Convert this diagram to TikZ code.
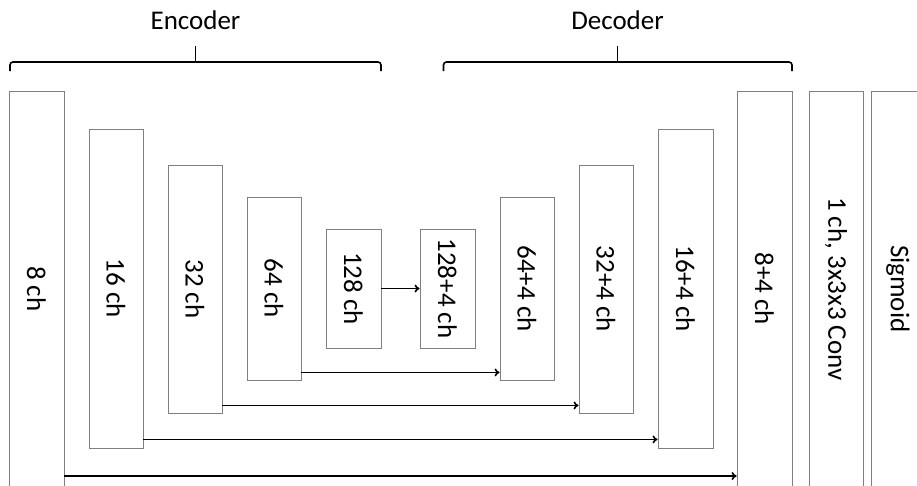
\documentclass[tikz,border=0pt]{standalone}
\usepackage{fontspec}
\setmainfont{Carlito}
\usepackage{graphicx}
\usetikzlibrary{arrows.meta}
\definecolor{boxgray}{RGB}{128,128,128}
\begin{document}
\begin{tikzpicture}[x=1pt,y=-1pt,
  blk/.style={draw=boxgray, line width=0.9pt, inner sep=0pt, fill=white,
    font=\fontsize{27}{32}\selectfont},
  lbl/.style={font=\fontsize{27}{32}\selectfont, inner sep=0pt},
  arr/.style={-{To[length=5pt,width=8pt]}, line width=1.6pt},
  brc/.style={line width=1.6pt, rounded corners=3pt}]
\clip (0,0) rectangle (917,485);
% encoder blocks
\node[blk, minimum width=55pt, minimum height=395.5pt] (e8)   at (36.5,288.75) {\rotatebox{-90}{8 ch}};
\node[blk, minimum width=54pt, minimum height=319pt]   (e16)  at (116,288.5)   {\rotatebox{-90}{16 ch}};
\node[blk, minimum width=54pt, minimum height=248pt]   (e32)  at (195,289)     {\rotatebox{-90}{32 ch}};
\node[blk, minimum width=54pt, minimum height=183pt]   (e64)  at (274,288.5)   {\rotatebox{-90}{64 ch}};
\node[blk, minimum width=55pt, minimum height=119pt]   (e128) at (353.5,288.5) {\rotatebox{-90}{128 ch}};
% decoder blocks
\node[blk, minimum width=55pt, minimum height=119pt]   (d128) at (447.5,288.5) {\rotatebox{-90}{128+4 ch}};
\node[blk, minimum width=54pt, minimum height=183pt]   (d64)  at (527,288.5)   {\rotatebox{-90}{64+4 ch}};
\node[blk, minimum width=54pt, minimum height=248pt]   (d32)  at (606,289)     {\rotatebox{-90}{32+4 ch}};
\node[blk, minimum width=55pt, minimum height=319pt]   (d16)  at (685.5,288.5) {\rotatebox{-90}{16+4 ch}};
\node[blk, minimum width=55pt, minimum height=395.5pt] (d8)   at (764.5,288.75) {\rotatebox{-90}{8+4 ch}};
\node[blk, minimum width=54pt, minimum height=395.5pt] (conv) at (836,288.75)  {\rotatebox{-90}{1 ch, 3x3x3 Conv}};
\node[blk, minimum width=54pt, minimum height=395.5pt] (sig)  at (898,288.75)  {\rotatebox{-90}{Sigmoid}};
% connectors
\coordinate (y8) at (0,476);
\draw[arr] (e128.east) -- (d128.west);
\draw[arr] ([yshift=8pt]e64.south east) -- ([yshift=8pt]e64.south east -| d64.west);
\draw[arr] ([yshift=8pt]e32.south east) -- ([yshift=8pt]e32.south east -| d32.west);
\draw[arr] ([yshift=9pt]e16.south east) -- ([yshift=9pt]e16.south east -| d16.west);
\draw[arr] (e8.east |- y8) -- (d8.west |- y8);
% braces
\draw[brc] (10,71) -- (10,62) -- (381,62) -- (381,71);
\draw[line width=1.6pt] (195.5,62) -- (195.5,46);
\draw[brc] (443.5,71) -- (443.5,62) -- (792,62) -- (792,71);
\draw[line width=1.6pt] (617.5,62) -- (617.5,46);
% titles
\node[lbl, anchor=base] (enc) at (195.5,29) {Encoder};
\node[lbl, anchor=base] (dec) at (617.5,29) {Decoder};
\end{tikzpicture}
\end{document}
